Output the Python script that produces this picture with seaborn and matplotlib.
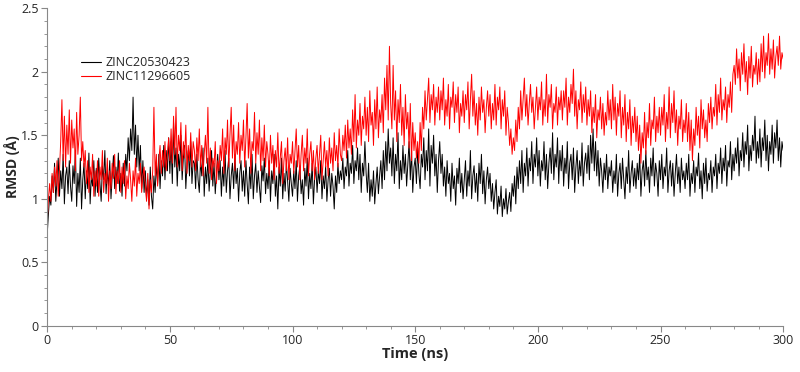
import numpy as np
import pandas as pd
import matplotlib
matplotlib.use("Agg")
import matplotlib.pyplot as plt
from matplotlib.ticker import MultipleLocator
import seaborn as sns

# time axis: one value every 0.5 ns, 0 .. 300 ns
time_ns = np.arange(0, 300.5, 0.5)

# RMSD (A), 20 values per 10 ns row
rmsd_zinc20530423 = [
    0.72, 0.88, 1.02, 0.95, 1.18, 1.05, 1.28, 0.98, 1.15, 1.32, 1.02, 1.22, 1.08, 1.35, 0.96, 1.18, 1.25, 1.04, 1.30, 1.10,
    0.98, 1.26, 1.12, 1.38, 0.94, 1.20, 1.05, 1.32, 0.92, 1.15, 1.28, 1.00, 1.22, 1.08, 1.36, 0.96, 1.18, 1.10, 1.30, 1.02,
    1.24, 1.05, 1.32, 1.12, 0.98, 1.26, 1.15, 1.38, 1.04, 1.22, 1.10, 1.30, 1.00, 1.18, 1.34, 1.08, 1.25, 1.12, 1.36, 1.06,
    1.20, 1.02, 1.28, 1.10, 1.35, 1.22, 1.48, 1.30, 1.55, 1.38, 1.80, 1.35, 1.58, 1.25, 1.50, 1.22, 1.42, 1.08, 1.30, 1.05,
    1.22, 1.00, 1.15, 0.95, 1.25, 1.02, 0.92, 1.18, 1.05, 1.28, 1.12, 1.35, 1.08, 1.30, 1.18, 1.42, 1.15, 1.38, 1.22, 1.48,
    1.20, 1.45, 1.12, 1.60, 1.25, 1.40, 1.10, 1.35, 1.22, 1.50, 1.15, 1.32, 1.42, 1.08, 1.28, 1.38, 1.18, 1.45, 1.12, 1.30,
    1.28, 1.08, 1.35, 1.15, 1.05, 1.30, 1.18, 1.40, 1.02, 1.25, 1.12, 1.32, 1.06, 1.22, 1.38, 1.10, 1.28, 1.04, 1.20, 1.35,
    1.15, 1.30, 1.02, 1.25, 1.10, 1.38, 1.05, 1.22, 1.32, 1.00, 1.18, 1.28, 1.08, 1.35, 1.12, 1.24, 0.98, 1.20, 1.30, 1.06,
    1.22, 1.02, 1.30, 1.12, 0.96, 1.25, 1.08, 1.35, 1.00, 1.18, 1.28, 1.05, 1.22, 1.10, 0.97, 1.26, 1.14, 1.32, 1.04, 1.20,
    1.08, 1.30, 0.98, 1.22, 1.12, 1.35, 1.02, 1.18, 0.92, 1.25, 1.10, 1.32, 1.00, 1.20, 1.06, 1.28, 1.14, 0.98, 1.24, 1.12,
    1.02, 1.22, 1.08, 1.30, 0.98, 1.18, 1.26, 1.04, 1.15, 0.95, 1.24, 1.10, 1.32, 1.00, 1.20, 1.08, 1.28, 0.96, 1.16, 1.25,
    1.05, 1.22, 1.12, 1.30, 1.00, 1.18, 1.08, 1.26, 0.98, 1.15, 1.24, 1.02, 1.20, 1.10, 0.92, 1.18, 1.05, 1.28, 1.12, 1.22,
    1.15, 1.32, 1.08, 1.25, 1.18, 1.38, 1.10, 1.28, 1.20, 1.42, 1.12, 1.30, 1.22, 1.40, 1.15, 1.35, 1.05, 1.28, 1.18, 1.45,
    1.20, 1.05, 1.28, 0.98, 1.15, 1.02, 1.22, 0.96, 1.12, 1.25, 1.04, 1.18, 1.30, 1.08, 1.38, 1.15, 1.45, 1.22, 1.55, 1.28,
    1.40, 1.18, 1.48, 1.12, 1.35, 1.22, 1.52, 1.08, 1.30, 1.15, 1.42, 1.20, 1.35, 1.10, 1.28, 1.45, 1.15, 1.38, 1.05, 1.25,
    1.32, 1.12, 1.40, 1.20, 1.08, 1.35, 1.25, 1.48, 1.15, 1.38, 1.22, 1.55, 1.10, 1.42, 1.28, 1.50, 1.18, 1.35, 1.05, 1.30,
    1.45, 1.20, 1.35, 1.10, 1.25, 1.02, 1.30, 1.12, 1.20, 0.98, 1.28, 1.08, 1.18, 0.95, 1.24, 1.12, 1.32, 1.05, 1.20, 1.00,
    1.15, 1.30, 1.02, 1.22, 1.10, 1.38, 1.00, 1.18, 1.26, 1.05, 1.20, 0.98, 1.28, 1.12, 1.35, 1.04, 1.22, 0.96, 1.15, 1.25,
    1.08, 1.20, 0.98, 1.12, 0.92, 1.05, 1.15, 0.88, 1.02, 0.94, 1.10, 0.86, 1.00, 0.92, 1.08, 0.88, 0.98, 1.05, 0.90, 1.12,
    1.02, 1.18, 0.96, 1.25, 1.08, 1.30, 1.12, 1.38, 1.05, 1.28, 1.18, 1.40, 1.10, 1.32, 1.22, 1.45, 1.12, 1.35, 1.25, 1.48,
    1.18, 1.38, 1.10, 1.30, 1.22, 1.45, 1.15, 1.35, 1.08, 1.28, 1.40, 1.20, 1.52, 1.15, 1.35, 1.25, 1.48, 1.12, 1.38, 1.22,
    1.42, 1.10, 1.32, 1.20, 1.45, 1.08, 1.28, 1.35, 1.15, 1.40, 1.05, 1.25, 1.38, 1.12, 1.30, 1.18, 1.44, 1.10, 1.28, 1.36,
    1.20, 1.42, 1.15, 1.50, 1.28, 1.55, 1.22, 1.45, 1.18, 1.38, 1.10, 1.32, 1.22, 1.05, 1.28, 1.15, 1.35, 1.08, 1.25, 1.18,
    1.30, 1.05, 1.22, 1.12, 1.35, 1.02, 1.20, 1.28, 1.08, 1.32, 1.15, 1.00, 1.25, 1.12, 1.38, 1.05, 1.20, 1.30, 1.10, 1.24,
    1.08, 1.28, 1.15, 1.35, 1.02, 1.22, 1.30, 1.10, 1.38, 1.15, 1.25, 1.05, 1.32, 1.18, 1.40, 1.10, 1.28, 1.20, 1.02, 1.30,
    1.15, 1.35, 1.08, 1.25, 1.18, 1.40, 1.05, 1.22, 1.30, 1.10, 1.28, 1.02, 1.20, 1.35, 1.12, 1.25, 1.05, 1.32, 1.15, 1.22,
    1.08, 1.28, 1.15, 1.35, 1.02, 1.20, 1.12, 1.30, 1.05, 1.25, 1.18, 1.36, 1.08, 1.22, 1.00, 1.28, 1.12, 1.32, 1.06, 1.20,
    1.15, 1.30, 1.05, 1.25, 1.18, 1.35, 1.08, 1.28, 1.20, 1.40, 1.12, 1.32, 1.22, 1.42, 1.10, 1.30, 1.25, 1.45, 1.15, 1.35,
    1.22, 1.40, 1.28, 1.48, 1.18, 1.38, 1.30, 1.52, 1.25, 1.45, 1.35, 1.58, 1.22, 1.42, 1.30, 1.50, 1.38, 1.65, 1.28, 1.45,
    1.32, 1.55, 1.25, 1.48, 1.38, 1.62, 1.30, 1.50, 1.22, 1.45, 1.35, 1.58, 1.28, 1.52, 1.40, 1.62, 1.30, 1.48, 1.25, 1.45,
    1.38,
]

rmsd_zinc11296605 = [
    0.82, 1.00, 1.12, 0.98, 1.20, 1.05, 1.25, 1.10, 1.30, 1.02, 1.22, 1.45, 1.78, 1.30, 1.65, 1.25, 1.58, 1.35, 1.70, 1.28,
    1.62, 1.40, 1.55, 1.22, 1.68, 1.35, 1.50, 1.80, 1.30, 1.45, 1.25, 1.38, 1.12, 1.30, 1.05, 1.25, 1.15, 1.35, 1.02, 1.22,
    1.10, 1.30, 1.02, 1.25, 1.15, 1.38, 1.05, 1.20, 1.12, 1.32, 0.98, 1.22, 1.08, 1.28, 1.16, 1.35, 1.04, 1.22, 1.12, 1.30,
    1.05, 1.25, 1.12, 1.30, 1.00, 1.18, 1.08, 1.28, 1.15, 0.98, 1.22, 1.10, 1.32, 1.02, 1.20, 1.12, 1.28, 1.05, 1.18, 1.25,
    1.10, 0.98, 1.20, 0.92, 1.15, 1.05, 1.22, 1.72, 1.18, 1.35, 1.10, 1.30, 1.42, 1.20, 1.38, 1.25, 1.45, 1.22, 1.35, 1.48,
    1.30, 1.55, 1.28, 1.65, 1.35, 1.72, 1.25, 1.50, 1.38, 1.60, 1.22, 1.45, 1.32, 1.58, 1.20, 1.42, 1.30, 1.52, 1.25, 1.45,
    1.38, 1.22, 1.48, 1.30, 1.55, 1.25, 1.42, 1.18, 1.35, 1.50, 1.28, 1.72, 1.20, 1.40, 1.15, 1.32, 1.25, 1.45, 1.12, 1.30,
    1.22, 1.42, 1.30, 1.55, 1.20, 1.48, 1.35, 1.62, 1.25, 1.50, 1.72, 1.32, 1.58, 1.22, 1.45, 1.35, 1.60, 1.28, 1.50, 1.38,
    1.62, 1.25, 1.48, 1.75, 1.32, 1.55, 1.20, 1.45, 1.38, 1.68, 1.28, 1.52, 1.35, 1.62, 1.22, 1.48, 1.30, 1.58, 1.25, 1.45,
    1.35, 1.18, 1.50, 1.28, 1.42, 1.15, 1.38, 1.25, 1.52, 1.20, 1.32, 1.45, 1.12, 1.30, 1.40, 1.22, 1.48, 1.15, 1.35, 1.28,
    1.45, 1.20, 1.38, 1.55, 1.25, 1.42, 1.15, 1.35, 1.50, 1.22, 1.40, 1.28, 1.55, 1.18, 1.35, 1.45, 1.22, 1.38, 1.15, 1.32,
    1.42, 1.20, 1.35, 1.50, 1.15, 1.30, 1.45, 1.25, 1.38, 1.18, 1.48, 1.28, 1.40, 1.22, 1.52, 1.30, 1.42, 1.25, 1.55, 1.35,
    1.30, 1.50, 1.38, 1.58, 1.32, 1.62, 1.40, 1.55, 1.35, 1.70, 1.45, 1.82, 1.40, 1.62, 1.50, 1.75, 1.42, 1.65, 1.55, 1.80,
    1.50, 1.72, 1.45, 1.85, 1.58, 1.68, 1.42, 1.78, 1.55, 1.88, 1.48, 1.70, 1.60, 1.82, 1.52, 1.95, 1.70, 2.05, 1.62, 2.20,
    1.75, 1.55, 2.05, 1.62, 1.85, 1.45, 1.78, 1.60, 1.90, 1.50, 1.72, 1.42, 1.82, 1.55, 1.68, 1.40, 1.75, 1.30, 1.60, 1.38,
    1.52, 1.32, 1.45, 1.28, 1.60, 1.38, 1.72, 1.55, 1.85, 1.62, 1.78, 1.95, 1.60, 1.82, 1.70, 1.90, 1.58, 1.80, 1.68, 1.88,
    1.62, 1.85, 1.70, 1.95, 1.58, 1.78, 1.65, 1.90, 1.55, 1.80, 1.72, 1.92, 1.60, 1.82, 1.68, 1.88, 1.52, 1.75, 1.65, 1.85,
    1.60, 1.82, 1.70, 1.92, 1.55, 1.78, 1.98, 1.65, 1.85, 1.58, 1.75, 1.50, 1.80, 1.62, 1.88, 1.68, 1.78, 1.52, 1.72, 1.85,
    1.65, 1.82, 1.55, 1.75, 1.62, 1.90, 1.58, 1.80, 1.70, 1.88, 1.55, 1.78, 1.65, 1.85, 1.50, 1.72, 1.60, 1.42, 1.55, 1.35,
    1.48, 1.38, 1.62, 1.45, 1.72, 1.55, 1.85, 1.62, 1.78, 1.95, 1.65, 1.82, 1.58, 1.75, 1.90, 1.68, 1.80, 1.55, 1.72, 1.88,
    1.62, 1.80, 1.70, 1.92, 1.58, 1.78, 1.65, 1.98, 1.60, 1.82, 1.72, 1.90, 1.55, 1.75, 1.68, 1.88, 1.58, 1.80, 1.70, 1.85,
    1.62, 1.85, 1.72, 1.95, 1.58, 1.80, 1.68, 1.90, 1.75, 2.02, 1.65, 1.85, 1.55, 1.78, 1.70, 1.92, 1.60, 1.82, 1.68, 1.88,
    1.58, 1.78, 1.65, 1.85, 1.52, 1.72, 1.60, 1.82, 1.48, 1.70, 1.62, 1.80, 1.55, 1.75, 1.50, 1.68, 1.58, 1.85, 1.62, 1.78,
    1.55, 1.90, 1.62, 1.80, 1.50, 1.75, 1.65, 1.85, 1.48, 1.72, 1.58, 1.82, 1.45, 1.68, 1.55, 1.78, 1.42, 1.65, 1.52, 1.72,
    1.45, 1.65, 1.38, 1.58, 1.28, 1.52, 1.40, 1.68, 1.35, 1.60, 1.48, 1.75, 1.42, 1.62, 1.55, 1.80, 1.45, 1.65, 1.52, 1.72,
    1.50, 1.72, 1.58, 1.82, 1.45, 1.68, 1.55, 1.88, 1.48, 1.75, 1.60, 1.85, 1.52, 1.70, 1.42, 1.65, 1.55, 1.78, 1.45, 1.62,
    1.52, 1.75, 1.45, 1.68, 1.38, 1.62, 1.30, 1.55, 1.42, 1.72, 1.50, 1.65, 1.40, 1.78, 1.55, 1.70, 1.48, 1.62, 1.45, 1.75,
    1.60, 1.80, 1.55, 1.72, 1.65, 1.90, 1.58, 1.82, 1.68, 1.95, 1.62, 1.78, 1.70, 1.88, 1.60, 1.82, 1.72, 1.92, 1.68, 1.98,
    2.05, 1.90, 2.18, 1.95, 2.10, 1.85, 2.15, 1.98, 2.22, 1.92, 2.08, 1.82, 2.12, 1.95, 2.20, 1.88, 2.05, 1.98, 2.15, 1.90,
    2.10, 1.92, 2.22, 2.00, 2.28, 1.95, 2.15, 2.05, 2.30, 1.98, 2.18, 2.02, 2.25, 1.95, 2.12, 2.20, 2.05, 2.28, 2.02, 2.15,
    2.10,
]

labels = ["ZINC20530423", "ZINC11296605"]
colors = ["black", "red"]

df = pd.concat([
    pd.DataFrame({"time": time_ns, "rmsd": rmsd_zinc20530423, "ligand": labels[0]}),
    pd.DataFrame({"time": time_ns, "rmsd": rmsd_zinc11296605, "ligand": labels[1]}),
])

sns.set_style("ticks")
plt.rcParams["font.family"] = ["Open Sans", "DejaVu Sans"]

fig = plt.figure(figsize=(8, 3.72), dpi=100)
ax = fig.add_axes([0.059, 0.124, 0.92, 0.854])

sns.lineplot(
    data=df, x="time", y="rmsd", hue="ligand",
    palette=dict(zip(labels, colors)),
    estimator=None, sort=False, linewidth=0.7, ax=ax
)

ax.set_xlim(0, 300)
ax.set_ylim(0, 2.5)
ax.xaxis.set_major_locator(MultipleLocator(50))
ax.xaxis.set_minor_locator(MultipleLocator(10))
ax.yaxis.set_major_locator(MultipleLocator(0.5))
ax.yaxis.set_minor_locator(MultipleLocator(0.1))
ax.set_yticks([0, 0.5, 1, 1.5, 2, 2.5], ["0", "0.5", "1", "1.5", "2", "2.5"])

ax.set_xlabel("Time (ns)", fontsize=10.5, fontweight="bold", labelpad=0)
ax.set_ylabel("RMSD (Å)", fontsize=10, fontweight="bold", labelpad=1)
ax.tick_params(which="major", length=4, width=0.8, color="#888888", labelsize=9, pad=2)
ax.tick_params(which="minor", length=2, width=0.6, color="#888888")
sns.despine(ax=ax)
for side in ["left", "bottom"]:
    ax.spines[side].set_color("#888888")
    ax.spines[side].set_linewidth(0.8)

leg = ax.legend(
    loc="upper left", bbox_to_anchor=(0.03, 0.885), frameon=False,
    fontsize=9, handlelength=1.6, handletextpad=0.4, labelspacing=0.1
)
for line in leg.get_lines():
    line.set_linewidth(0.8)

fig.savefig("out.png", dpi=100)
